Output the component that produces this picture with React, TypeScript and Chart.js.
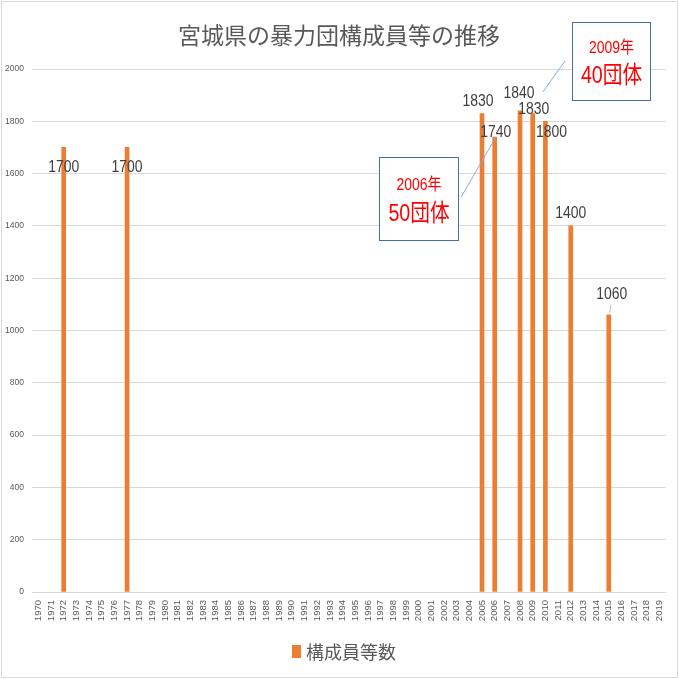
import { useEffect, useRef } from 'react';
import { Chart, registerables, Plugin } from 'chart.js';

Chart.register(...registerables);

// 1970〜2019 の年（横軸カテゴリ）
const years = [
  '1970', '1971', '1972', '1973', '1974', '1975', '1976', '1977', '1978', '1979',
  '1980', '1981', '1982', '1983', '1984', '1985', '1986', '1987', '1988', '1989',
  '1990', '1991', '1992', '1993', '1994', '1995', '1996', '1997', '1998', '1999',
  '2000', '2001', '2002', '2003', '2004', '2005', '2006', '2007', '2008', '2009',
  '2010', '2011', '2012', '2013', '2014', '2015', '2016', '2017', '2018', '2019',
];

// 構成員等数が分かっている年と人数
const memberYears = ['1972', '1977', '2005', '2006', '2008', '2009', '2010', '2012', '2015'];
const memberCounts = [1700, 1700, 1830, 1740, 1840, 1830, 1800, 1400, 1060];

// データラベルのずらし (px) — Excel で手動配置されていた位置
const labelNudges = [
  [0, 20], [0, 20], [-4, -12], [1, -5], [-1, -18], [1, -4], [6, 11], [0, -13], [3, -20],
];

const yMax = 2000;
const yStep = 200;

const chartTitle = '宮城県の暴力団構成員等の推移';
const seriesName = '構成員等数';

// 吹き出し（データ座標: x はカテゴリ番号, y は人数）
const callouts = [
  { year: '2006年', groups: '50団体', x0: 26.9, x1: 33.1, yTop: 1663, yBottom: 1346, line: [33.35, 1510, 36.1, 1740] },
  { year: '2009年', groups: '40団体', x0: 42.1, x1: 48.25, yTop: 2180, yBottom: 1881, line: [39.8, 1912, 41.55, 2031] },
];

const ORANGE = '#ed7d31';
const GRAY_TEXT = '#595959';
const GRID = '#d9d9d9';
const NUM_FONT = '"Liberation Sans", "Noto Sans CJK JP", sans-serif';
const JP_FONT = '"Noto Sans CJK JP", sans-serif';

// Calibri 風に横を詰めて描く
function fillNarrow(ctx: CanvasRenderingContext2D, text: string, x: number, y: number, sx = 0.82) {
  ctx.save();
  ctx.translate(x, y);
  ctx.scale(sx, 1);
  ctx.fillText(text, 0, 0);
  ctx.restore();
}

const decorations: Plugin<'bar'> = {
  id: 'decorations',
  afterDatasetsDraw(chart) {
    const { ctx } = chart;
    const meta = chart.getDatasetMeta(0);
    ctx.save();
    ctx.font = `17px ${NUM_FONT}`;
    ctx.fillStyle = '#404040';
    ctx.textAlign = 'center';
    ctx.textBaseline = 'middle';
    meta.data.forEach((el, i) => {
      const [dx, dy] = labelNudges[i] || [0, -12];
      fillNarrow(ctx, String(memberCounts[i]), el.x + dx, el.y + dy);
    });
    // 1060 の引き出し線
    const last = meta.data[meta.data.length - 1];
    if (last) {
      ctx.strokeStyle = '#bfbfbf';
      ctx.lineWidth = 1;
      ctx.beginPath();
      ctx.moveTo(last.x + 2, last.y - 10);
      ctx.lineTo(last.x + 1, last.y - 2);
      ctx.stroke();
    }
    ctx.restore();
  },
  afterDraw(chart) {
    const { ctx, width, height } = chart;
    const xs = chart.scales.x;
    const ys = chart.scales.y;
    ctx.save();

    // 外枠
    ctx.strokeStyle = GRID;
    ctx.lineWidth = 1;
    ctx.strokeRect(1.5, 1.5, width - 3, height - 3);

    // タイトル
    ctx.fillStyle = GRAY_TEXT;
    ctx.font = `23px ${JP_FONT}`;
    ctx.textAlign = 'center';
    ctx.textBaseline = 'middle';
    ctx.fillText(chartTitle, 339, 35);

    // 凡例
    ctx.fillStyle = ORANGE;
    ctx.fillRect(292, 645, 9, 13);
    ctx.fillStyle = GRAY_TEXT;
    ctx.font = `18px ${JP_FONT}`;
    ctx.textAlign = 'left';
    ctx.fillText(seriesName, 306, 652);

    // 吹き出し
    callouts.forEach((c) => {
      const [lx0, ly0, lx1, ly1] = c.line;
      ctx.strokeStyle = '#8eaadb';
      ctx.lineWidth = 1;
      ctx.beginPath();
      ctx.moveTo(xs.getPixelForValue(lx0), ys.getPixelForValue(ly0));
      ctx.lineTo(xs.getPixelForValue(lx1), ys.getPixelForValue(ly1));
      ctx.stroke();

      const left = Math.round(xs.getPixelForValue(c.x0)) + 0.5;
      const right = Math.round(xs.getPixelForValue(c.x1)) + 0.5;
      const top = Math.round(ys.getPixelForValue(c.yTop)) + 0.5;
      const bottom = Math.round(ys.getPixelForValue(c.yBottom)) + 0.5;
      ctx.fillStyle = '#ffffff';
      ctx.fillRect(left, top, right - left, bottom - top);
      ctx.strokeStyle = '#41719c';
      ctx.strokeRect(left, top, right - left, bottom - top);

      const cx = (left + right) / 2;
      const h = bottom - top;
      ctx.fillStyle = '#ff0000';
      ctx.textAlign = 'center';
      ctx.font = `17px ${NUM_FONT}`;
      fillNarrow(ctx, c.year, cx, top + h * 0.33);
      ctx.font = `24px ${NUM_FONT}`;
      fillNarrow(ctx, c.groups, cx, top + h * 0.69);
    });
    ctx.restore();
  },
};

export default function App() {
  const canvasRef = useRef<HTMLCanvasElement>(null);

  useEffect(() => {
    document.body.style.margin = '0';
    if (!canvasRef.current) return;

    const chart = new Chart(canvasRef.current, {
      type: 'bar',
      data: {
        labels: years,
        datasets: [{
          label: seriesName,
          data: memberYears.map((y, i) => ({ x: y, y: memberCounts[i] })),
          backgroundColor: ORANGE,
          barThickness: 4,
        }],
      },
      options: {
        responsive: false,
        animation: false,
        layout: { padding: { top: 69, right: 12, left: 0, bottom: 0 } },
        plugins: {
          legend: { display: false },
          title: { display: false },
          tooltip: { enabled: false },
        },
        scales: {
          x: {
            grid: { display: false, drawTicks: false },
            border: { display: true, color: GRID },
            ticks: {
              autoSkip: false,
              minRotation: 90,
              maxRotation: 90,
              padding: 8,
              color: GRAY_TEXT,
              font: { family: '"Liberation Sans", sans-serif', size: 9.5 },
            },
            afterFit(scale) {
              scale.height = 87;
            },
          },
          y: {
            min: 0,
            max: yMax,
            grid: { color: GRID, drawTicks: false },
            border: { display: false },
            ticks: {
              stepSize: yStep,
              padding: 8,
              color: GRAY_TEXT,
              font: { family: '"Liberation Sans", sans-serif', size: 8.5 },
              callback: (value) => String(value),
            },
            afterFit(scale) {
              scale.width = 32;
            },
          },
        },
      },
      plugins: [decorations],
    });

    return () => chart.destroy();
  }, []);

  return (
    <div style={{ width: 679, height: 679, background: '#ffffff' }}>
      <canvas ref={canvasRef} width={679} height={679} />
    </div>
  );
}
